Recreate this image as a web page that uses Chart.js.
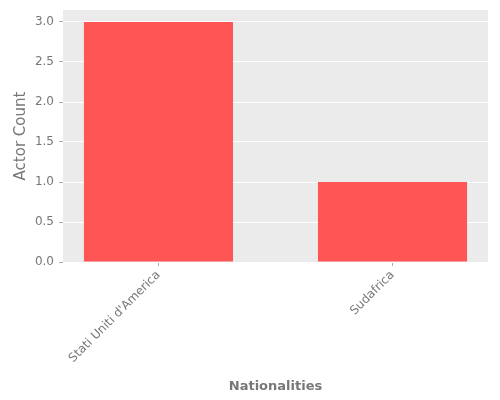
<!DOCTYPE html>
<html>
<head>
<meta charset="utf-8">
<script src="https://cdn.jsdelivr.net/npm/chart.js@4"></script>
<style>
  html, body { margin: 0; padding: 0; background: #fff; }
  #wrap { width: 500px; height: 400px; }
</style>
</head>
<body>
<div id="wrap"><canvas id="c" width="500" height="400"></canvas></div>
<script>
const categories = ["Stati Uniti d'America", "Sudafrica"];
const actorCounts = [3, 1];
const yTickValues = [0, 0.5, 1, 1.5, 2, 2.5, 3];

const plotBg = {
  id: 'plotBg',
  beforeDraw(chart) {
    const { ctx, chartArea: a } = chart;
    ctx.save();
    ctx.fillStyle = '#EBEBEB';
    ctx.fillRect(a.left, a.top, a.right - a.left, a.bottom - a.top);
    ctx.restore();
  }
};

const font = 'DejaVu Sans';

new Chart(document.getElementById('c'), {
  type: 'bar',
  data: {
    datasets: [{
      data: categories.map((c, i) => ({ x: i, y: actorCounts[i] })),
      backgroundColor: '#FF5555',
      borderWidth: 0,
      categoryPercentage: 1,
      barPercentage: 0.637
    }]
  },
  options: {
    responsive: false,
    animation: false,
    layout: { padding: { top: 10, right: 12, bottom: 6, left: 0 } },
    plugins: { legend: { display: false }, tooltip: { enabled: false } },
    scales: {
      x: {
        type: 'linear',
        offset: false,
        min: -0.408,
        max: 1.408,
        afterBuildTicks(scale) { scale.ticks = categories.map((c, i) => ({ value: i })); },
        afterFit(scale) { scale.height = 132; scale.paddingLeft = 0; scale.paddingRight = 0; },
        grid: { offset: false, drawOnChartArea: false, drawTicks: true, tickLength: 4, tickColor: '#aaaaaa' },
        border: { display: false },
        ticks: {
          autoSkip: false,
          minRotation: 45,
          maxRotation: 45,
          padding: 2,
          color: '#777777',
          font: { family: font, size: 12 },
          callback: (v) => categories[Math.round(v)]
        },
        title: {
          display: true,
          text: 'Nationalities',
          color: '#777777',
          font: { family: font, size: 13, weight: 'bold' },
          padding: { top: 0, bottom: 0 }
        }
      },
      y: {
        min: 0,
        max: 3.15,
        afterBuildTicks(scale) { scale.ticks = yTickValues.map(v => ({ value: v })); },
        afterFit(scale) { scale.width = 63; scale.paddingTop = 0; scale.paddingBottom = 0; },
        grid: { color: '#ffffff', lineWidth: 1, tickLength: 4, tickColor: '#aaaaaa' },
        border: { display: false },
        ticks: {
          padding: 5,
          color: '#777777',
          font: { family: font, size: 12 },
          callback: (v) => Number(v).toFixed(1)
        },
        title: {
          display: true,
          text: 'Actor Count',
          color: '#777777',
          font: { family: font, size: 15, weight: 'normal' },
          padding: { top: 12, bottom: 0 }
        }
      }
    }
  },
  plugins: [plotBg]
});
</script>
</body>
</html>
